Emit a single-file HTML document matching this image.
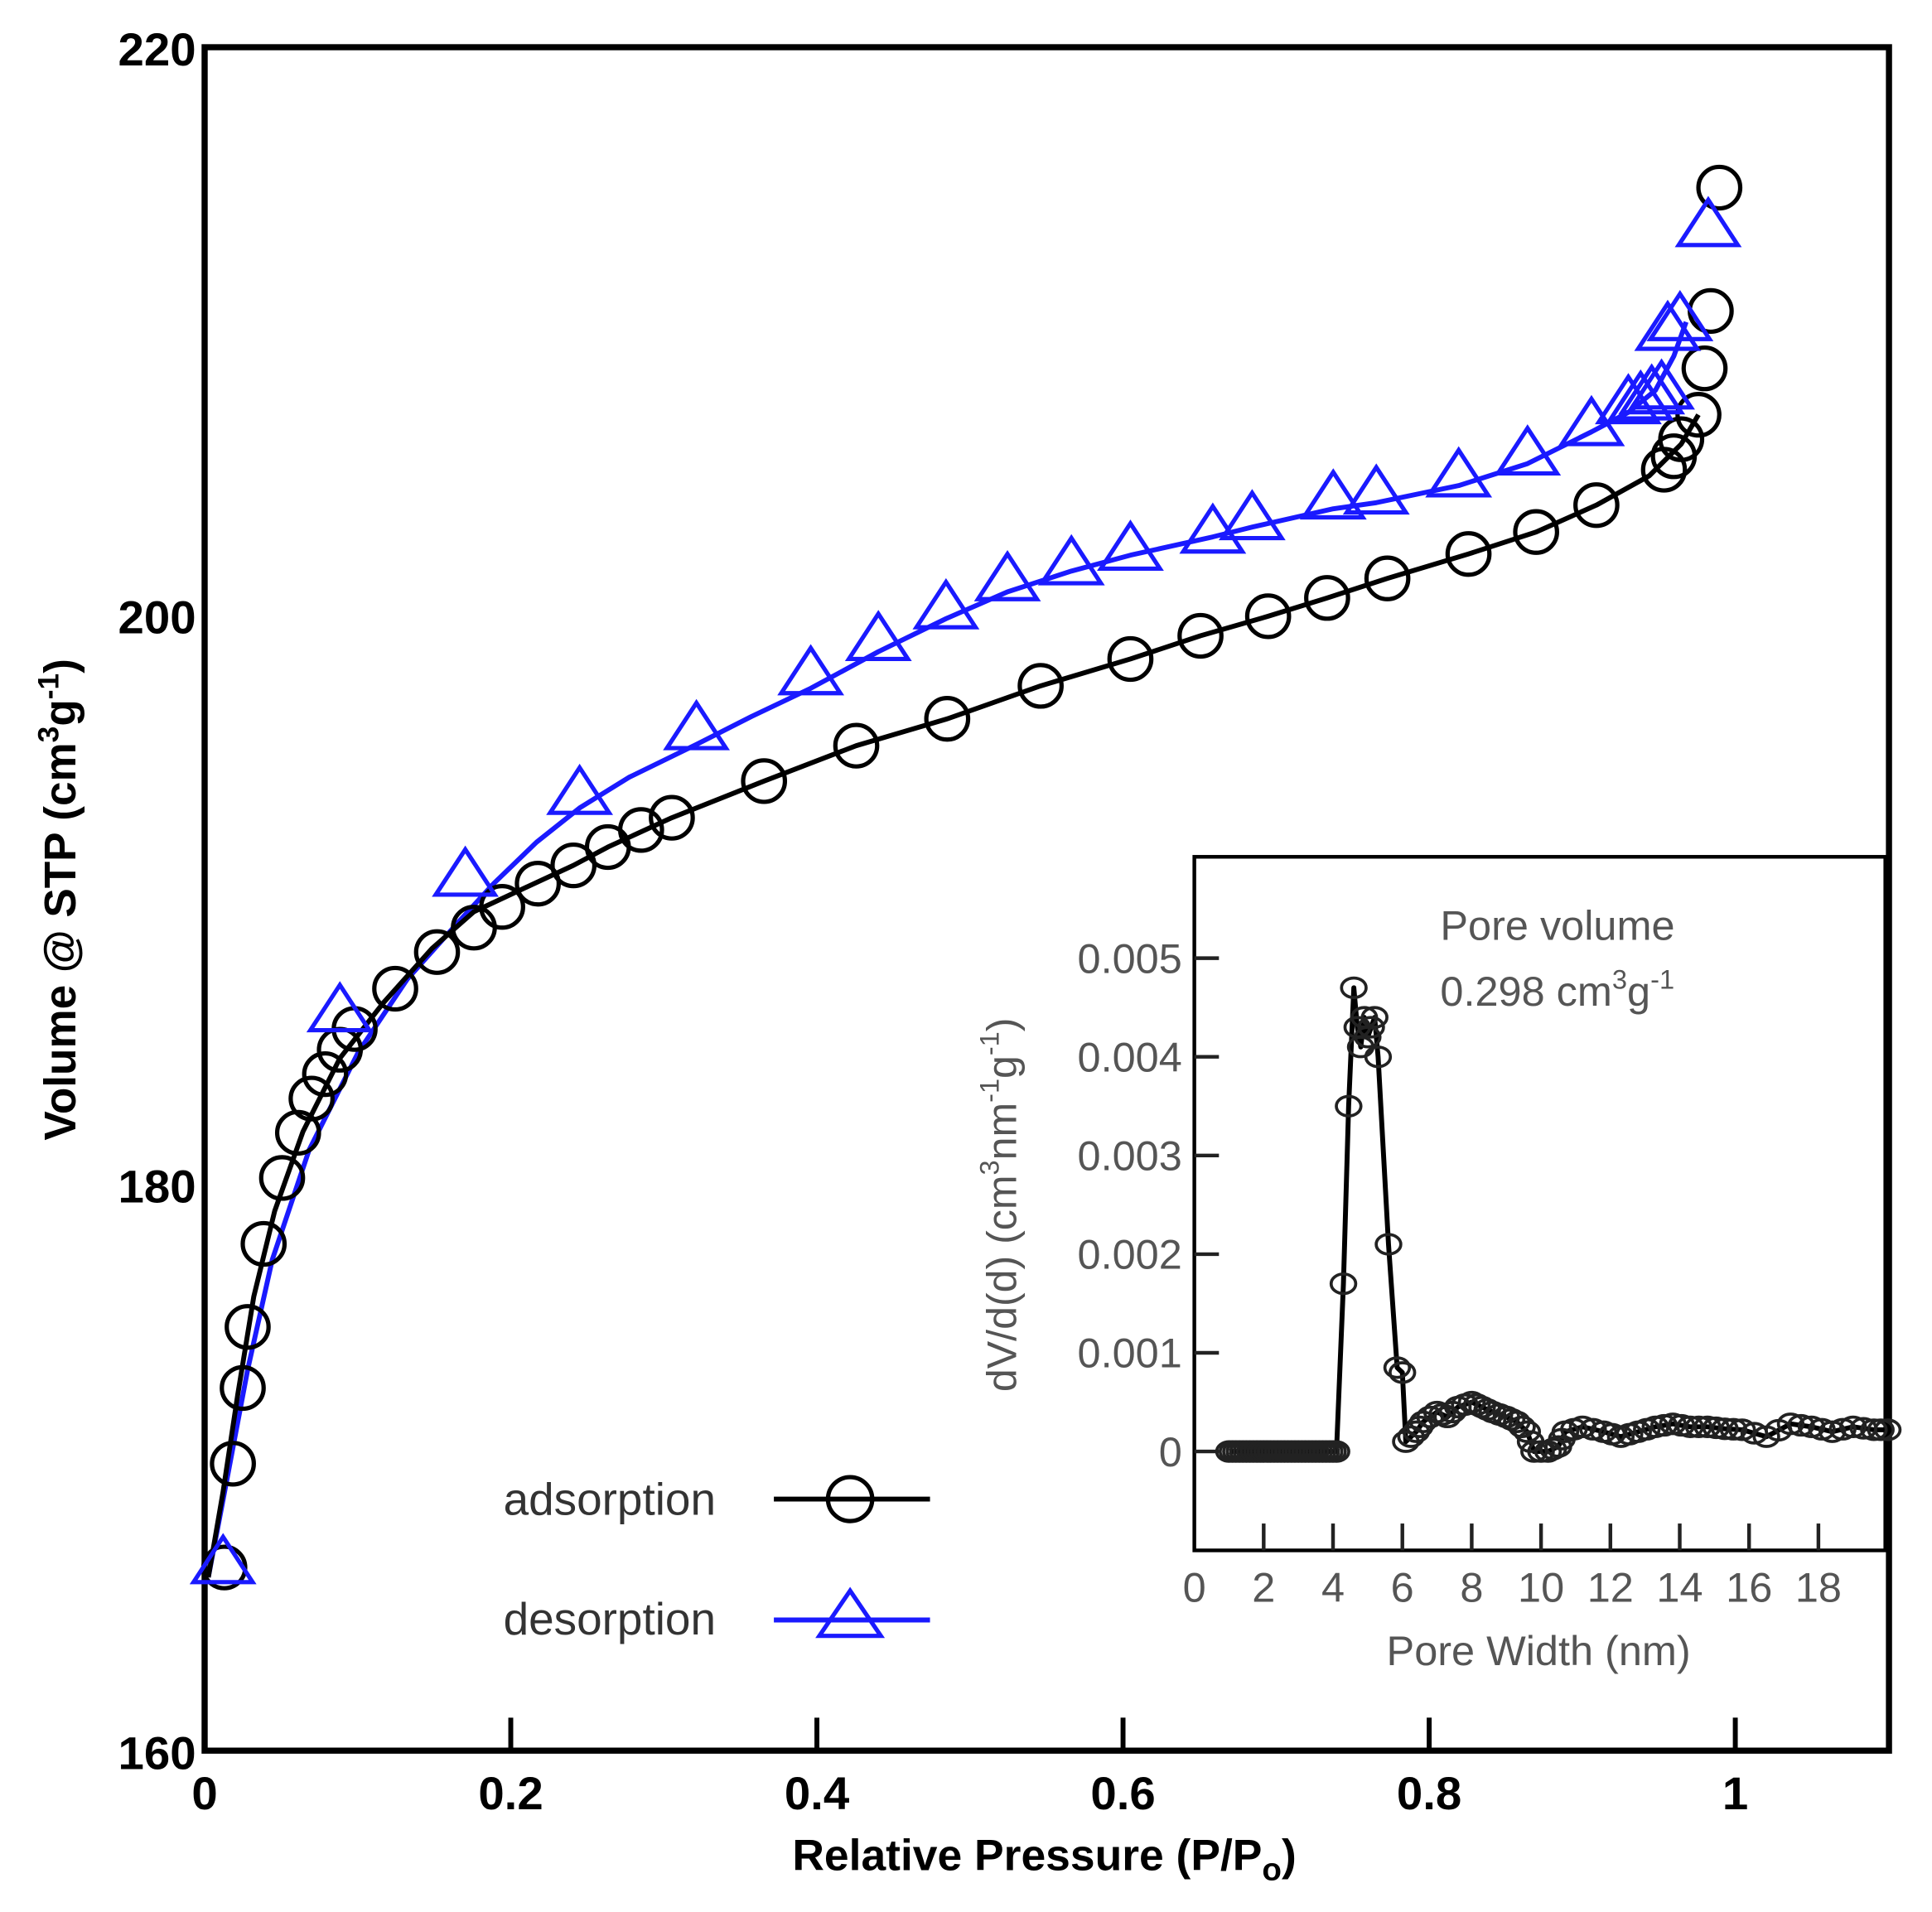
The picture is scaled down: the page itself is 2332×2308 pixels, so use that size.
<!DOCTYPE html>
<html><head><meta charset="utf-8">
<style>
html,body{margin:0;padding:0;background:#fff;}
svg{display:block;}
text{font-family:"Liberation Sans","DejaVu Sans",sans-serif;}
</style></head>
<body>
<svg id="s" width="2332" height="2308" viewBox="0 0 2332 2308" xmlns="http://www.w3.org/2000/svg">
<rect width="2332" height="2308" fill="#fff"/>
<g id="g" transform="translate(2.14,2.46) scale(1.484,1.474)">
  <rect x="165" y="37" width="1370" height="1395" fill="none" stroke="#000" stroke-width="5"/>
  <g stroke="#000" stroke-width="4">
    <line x1="414" y1="1432" x2="414" y2="1405"/>
    <line x1="663" y1="1432" x2="663" y2="1405"/>
    <line x1="912" y1="1432" x2="912" y2="1405"/>
    <line x1="1161" y1="1432" x2="1161" y2="1405"/>
    <line x1="1410" y1="1432" x2="1410" y2="1405"/>
  </g>
  <g font-weight="bold" font-size="38" fill="#000">
    <text x="158" y="52" text-anchor="end">220</text>
    <text x="158" y="517" text-anchor="end">200</text>
    <text x="158" y="983" text-anchor="end">180</text>
    <text x="158" y="1447" text-anchor="end">160</text>
    <text x="165" y="1480" text-anchor="middle">0</text>
    <text x="414" y="1480" text-anchor="middle">0.2</text>
    <text x="663" y="1480" text-anchor="middle">0.4</text>
    <text x="912" y="1480" text-anchor="middle">0.6</text>
    <text x="1161" y="1480" text-anchor="middle">0.8</text>
    <text x="1410" y="1480" text-anchor="middle">1</text>
    <text x="848" y="1530" text-anchor="middle" font-size="36">Relative Pressure (P/P<tspan font-size="26" dy="8">o</tspan><tspan dy="-8">)</tspan></text>
    <text transform="translate(60,735) rotate(-90)" text-anchor="middle" font-size="36">Volume @ STP (cm<tspan font-size="24" dy="-14">3</tspan><tspan dy="14">g</tspan><tspan font-size="24" dy="-14">-1</tspan><tspan dy="14">)</tspan></text>
  </g>
  <g id="main"></g>
  <g font-size="37" fill="#333">
    <text x="408" y="1239">adsorption</text>
    <text x="408" y="1337">desorption</text>
  </g>
  <line x1="628" y1="1226" x2="755" y2="1226" stroke="#000" stroke-width="4"/>
  <circle cx="690" cy="1226" r="18" fill="none" stroke="#000" stroke-width="3.5"/>
  <line x1="628" y1="1325" x2="755" y2="1325" stroke="#1a1aff" stroke-width="4"/>
  <polygon points="690,1301 665,1338 715,1338" fill="none" stroke="#1a1aff" stroke-width="3.5"/>
  <rect x="970" y="700" width="562" height="568" fill="#fff" stroke="#000" stroke-width="3"/>
  <g id="inset"></g>
  <g font-size="34" fill="#555">
    <text x="1170" y="768">Pore volume</text>
    <text x="1170" y="822">0.298 cm<tspan font-size="22" dy="-14">3</tspan><tspan dy="14">g</tspan><tspan font-size="22" dy="-14">-1</tspan></text>
    <text x="1250" y="1362" text-anchor="middle">Pore Width (nm)</text>
    <text transform="translate(825,985) rotate(-90)" text-anchor="middle">dV/d(d) (cm<tspan font-size="22" dy="-14">3</tspan><tspan dy="14">nm</tspan><tspan font-size="22" dy="-14">-1</tspan><tspan dy="14">g</tspan><tspan font-size="22" dy="-14">-1</tspan><tspan dy="14">)</tspan></text>
  </g>
</g>
</svg>
<script>
(function(){
var NS="http://www.w3.org/2000/svg";
function el(p,t,a){var e=document.createElementNS(NS,t);for(var k in a)e.setAttribute(k,a[k]);p.appendChild(e);return e;}
var main=document.getElementById('main');
var ads=[[181,1282],[188,1197],[196,1135],[200,1085],[213,1017],[228,963],[241,926],[252,898],[263,878],[275,858],[287,841],[320,808],[354,778],[384,758],[407,741],[436,722],[465,707],[493,692],[520,678],[545,668],[620,638],[695,609],[769,587],[845,560],[918,538],[975,519],[1030,503],[1078,488],[1127,472],[1193,452],[1248,434],[1297,412],[1352,383],[1360,372],[1366,358],[1380,338],[1385,300],[1390,253],[1397,152]];
var desT=[[180,1280],[275,828],[377,717],[470,650],[565,597],[658,552],[713,524],[768,498],[818,475],[870,462],[918,450],[985,436],[1017,425],[1083,408],[1118,404],[1185,390],[1241,372],[1293,348],[1323,330],[1333,327],[1342,322],[1350,318],[1355,270],[1365,262],[1388,185]];
var adsLine=[[168,1290],[180,1220],[192,1140],[205,1060],[222,990],[245,925],[275,865],[310,820],[350,775],[384,745],[420,728],[465,707],[493,692],[545,668],[620,638],[695,609],[769,587],[845,560],[918,538],[975,519],[1030,503],[1078,488],[1127,472],[1193,452],[1248,434],[1297,412],[1340,388],[1366,362],[1380,338]];
var desLine=[[168,1290],[185,1200],[200,1120],[220,1030],[250,940],[290,860],[330,800],[370,755],[400,722],[435,688],[470,660],[510,635],[565,608],[610,585],[658,562],[713,532],[768,505],[818,483],[870,466],[918,453],[985,438],[1017,430],[1083,415],[1118,410],[1185,396],[1241,378],[1293,352],[1323,336],[1345,318],[1360,290],[1370,262]];
function pts(a){return a.map(function(p){return p.join(',')}).join(' ');}
el(main,'polyline',{points:pts(desLine),fill:'none',stroke:'#1a1aff','stroke-width':4,'stroke-linejoin':'round'});
el(main,'polyline',{points:pts(adsLine),fill:'none',stroke:'#000','stroke-width':4,'stroke-linejoin':'round'});
ads.forEach(function(p){el(main,'circle',{cx:p[0],cy:p[1],r:17,fill:'none',stroke:'#000','stroke-width':3.5});});
desT.forEach(function(p){var x=p[0],y=p[1];el(main,'polygon',{points:x+','+(y-23)+' '+(x-24)+','+(y+14)+' '+(x+24)+','+(y+14),fill:'none',stroke:'#1a1aff','stroke-width':3.5});});
var ins=document.getElementById('inset');
function X(w){return 970+w*28.2;} function Y(v){return 1187-v*80800;}
for(var i=0;i<=5;i++){var y=Y(i*0.001);el(ins,'line',{x1:970,y1:y,x2:990,y2:y,stroke:'#222','stroke-width':3});
 var t=el(ins,'text',{x:960,y:y+12,'text-anchor':'end','font-size':34,fill:'#555'});t.textContent=i==0?'0':('0.00'+i);}
for(var w=0;w<=18;w+=2){var x=X(w);if(w>0)el(ins,'line',{x1:x,y1:1268,x2:x,y2:1246,stroke:'#222','stroke-width':3});
 var t2=el(ins,'text',{x:x,y:1310,'text-anchor':'middle','font-size':34,fill:'#555'});t2.textContent=String(w);}
var d=[];for(var w2=1;w2<=4.2;w2+=0.1)d.push([w2,0]);
var peak=[[4.3,0.0017],[4.45,0.0035],[4.6,0.0047],[4.7,0.0043],[4.8,0.0041],[4.9,0.0044],[5.0,0.0042],[5.1,0.0043],[5.2,0.0044],[5.3,0.0040],[5.6,0.0021],[5.85,0.00085],[6.0,0.0008]];
var tail=[[6.1,0.0001],[6.4,0.0002],[6.6,0.0003],[7.0,0.0004],[7.3,0.00035],[7.6,0.00045],[8.0,0.0005],[8.3,0.00045],[8.6,0.0004],[9.0,0.00035],[9.3,0.0003],[9.6,0.0002],[9.8,0],[10.2,0],[10.5,0.00005],[10.7,0.0002],[11.2,0.00025],[11.8,0.0002],[12.3,0.00015],[12.8,0.0002],[13.3,0.00025],[13.8,0.00028],[14.3,0.00025],[14.8,0.00025],[15.3,0.00023],[15.8,0.00022],[16.5,0.00015],[17.2,0.00028],[17.8,0.00025],[18.4,0.0002],[19.0,0.00025],[19.6,0.00022],[20,0.00022]];
d=d.concat(peak);
var dense=[];
for(var j=0;j<tail.length;j++){dense.push(tail[j]);if(j<tail.length-1){var a=tail[j],b=tail[j+1];dense.push([(a[0]+b[0])/2,(a[1]+b[1])/2]);}}
d=d.concat(dense);
var ip=d.map(function(p){return [X(p[0]),Y(p[1])];});
el(ins,'polyline',{points:pts(ip),fill:'none',stroke:'#000','stroke-width':4,'stroke-linejoin':'round'});
ip.forEach(function(p){el(ins,'ellipse',{cx:p[0],cy:p[1],rx:10,ry:8,fill:'none',stroke:'#222','stroke-width':2.5});});
})();
</script>
</body></html>
